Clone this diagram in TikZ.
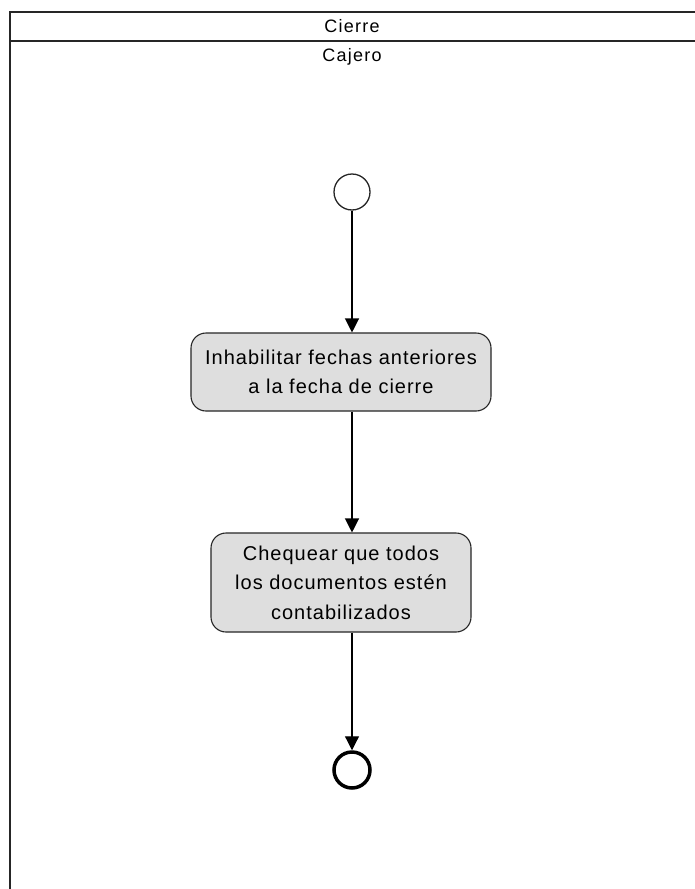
\documentclass[tikz,border=0pt]{standalone}
\usepackage{fontspec}
\setmainfont{Liberation Sans}
\newfontfamily\actfont[LetterSpace=5]{Liberation Sans}
\newfontfamily\lanefont[LetterSpace=7]{Liberation Sans}
\usetikzlibrary{arrows.meta}
\begin{document}
\begin{tikzpicture}[x=1pt,y=-1pt,
  frameline/.style={draw=black!85,line width=1.3pt},
  action/.style={draw=black!85,line width=1.1pt,fill=black!13,rounded corners=15pt,
    align=center,font=\actfont\fontsize{20}{29.5}\selectfont,inner sep=0pt},
  flow/.style={draw=black,line width=1.2pt,-{Triangle[length=14pt,width=14pt]}},
  lanetext/.style={font=\lanefont\fontsize{18}{20}\selectfont}]
\useasboundingbox (0,0) rectangle (695,889);
\fill[white] (0,0) rectangle (695,889);
% swimlane frame
\draw[frameline] (10,889) -- (10,12) -- (700,12);
\draw[draw=black!85,line width=2.6pt] (10,41) -- (700,41);
\node[lanetext] (pool) at (352,26) {Cierre};
\node[lanetext] (lane) at (352,57) {Cajero};
% activity nodes
\node[draw=black!85,line width=1.3pt,fill=white,circle,minimum size=36pt,inner sep=0pt] (start) at (352,192) {};
\node[action,minimum width=300pt,minimum height=78pt] (a1) at (341,372) {Inhabilitar fechas anteriores\\a la fecha de cierre};
\node[action,minimum width=260pt,minimum height=99pt] (a2) at (341,582.5) {Chequear que todos\\los documentos estén\\contabilizados};
\node[draw=black,line width=3.5pt,fill=white,circle,minimum size=36pt,inner sep=0pt] (end) at (352,770) {};
% control flows
\draw[flow] (start) -- (start|-a1.north);
\draw[flow] (start|-a1.south) -- (start|-a2.north);
\draw[flow] (start|-a2.south) -- (end);
\end{tikzpicture}
\end{document}
